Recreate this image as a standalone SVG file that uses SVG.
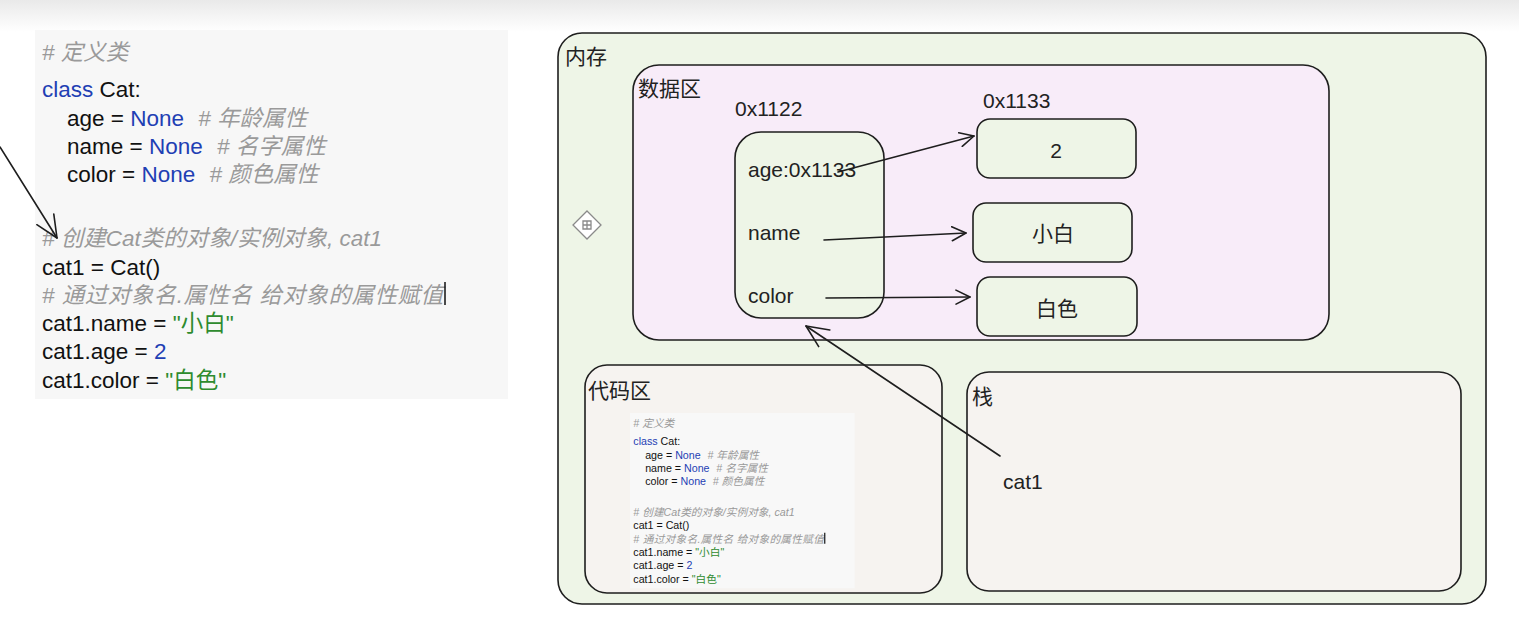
<svg xmlns="http://www.w3.org/2000/svg" width="1519" height="644" viewBox="0 0 1519 644">
<defs>
<linearGradient id="topg" x1="0" y1="0" x2="0" y2="1">
<stop offset="0" stop-color="#e9e9e9"/>
<stop offset="1" stop-color="#ffffff"/>
</linearGradient>
<marker id="arr" viewBox="0 0 16 16" refX="15" refY="8" markerWidth="16" markerHeight="16" markerUnits="userSpaceOnUse" orient="auto">
<path d="M1,1 L15,8 L1,15" fill="none" stroke="#1e1e1e" stroke-width="1.6" stroke-linecap="round" stroke-linejoin="round"/>
</marker>
<marker id="arrL" viewBox="0 0 24 24" refX="23" refY="12" markerWidth="24" markerHeight="24" markerUnits="userSpaceOnUse" orient="auto">
<path d="M1,2 L23,12 L1,22" fill="none" stroke="#1e1e1e" stroke-width="1.6" stroke-linecap="round" stroke-linejoin="round"/>
</marker>
<style>
.code{font-family:"Liberation Sans","Noto Sans CJK SC",sans-serif;font-size:22.5px;fill:#111}
.kw{fill:#1f3fb4}
.str{fill:#2e8b2e}
.cm{fill:#9a9a9a;font-style:italic}
.box{stroke:#1e1e1e;stroke-width:1.6}
.mem{fill:#eef5e7}
.data{fill:#f8ecf9}
.area{fill:#f6f3f0}
.lbl{font-family:"Liberation Sans","Noto Sans CJK SC",sans-serif;font-size:21px;fill:#222}
.conn{fill:none;stroke:#1e1e1e;stroke-width:1.6;stroke-linecap:round}
</style>
</defs>
<rect x="0" y="0" width="1519" height="644" fill="#ffffff"/>
<rect x="0" y="0" width="1519" height="32" fill="url(#topg)"/>

<g id="code-main">
<rect x="35" y="30" width="473" height="369" fill="#f7f7f7"/>
<text class="code" x="42" y="60"><tspan class="cm"># 定义类</tspan></text>
<text class="code" x="42" y="97"><tspan class="kw">class</tspan> Cat:</text>
<text class="code" x="67" y="126">age = <tspan class="kw">None</tspan> <tspan class="cm" dx="8"># 年龄属性</tspan></text>
<text class="code" x="67" y="154">name = <tspan class="kw">None</tspan> <tspan class="cm" dx="8"># 名字属性</tspan></text>
<text class="code" x="67" y="182">color = <tspan class="kw">None</tspan> <tspan class="cm" dx="8"># 颜色属性</tspan></text>
<text class="code" x="42" y="246"><tspan class="cm"># 创建Cat类的对象/实例对象, cat1</tspan></text>
<text class="code" x="42" y="275">cat1 = Cat()</text>
<text class="code" x="42" y="303" textLength="401" lengthAdjust="spacing"><tspan class="cm"># 通过对象名.属性名 给对象的属性赋值</tspan></text>
<line x1="445" y1="282" x2="445" y2="305" stroke="#111" stroke-width="1.5"/>
<text class="code" x="42" y="331">cat1.name = <tspan class="str">"小白"</tspan></text>
<text class="code" x="42" y="359">cat1.age = <tspan class="kw">2</tspan></text>
<text class="code" x="42" y="388">cat1.color = <tspan class="str">"白色"</tspan></text>
</g>

<g id="memory">
<rect class="box mem" x="558" y="33" width="928" height="571" rx="24"/>
<text class="lbl" x="565" y="64">内存</text>
</g>

<g id="data-area">
<rect class="box data" x="633" y="65" width="696" height="275" rx="26"/>
<text class="lbl" x="638" y="96">数据区</text>
</g>

<g id="move-icon" fill="none" stroke="#8a8a8a" stroke-width="1.3">
<path d="M587,211 L601,225 L587,239 L573,225 Z" fill="#ffffff"/>
<path d="M583,221 h8 v8 h-8 Z M587,221 v8 M583,225 h8"/>
</g>

<g id="obj-0x1122">
<text class="lbl" x="735" y="116">0x1122</text>
<rect class="box mem" x="735" y="132" width="149" height="186" rx="26"/>
<text class="lbl" x="748" y="177">age:0x1133</text>
<text class="lbl" x="748" y="240">name</text>
<text class="lbl" x="748" y="303">color</text>
</g>

<g id="val-2">
<text class="lbl" x="983" y="108">0x1133</text>
<rect class="box mem" x="977" y="119" width="159" height="59" rx="13"/>
<text class="lbl" x="1056" y="158" text-anchor="middle">2</text>
</g>

<g id="val-xiaobai">
<rect class="box mem" x="973" y="203" width="159" height="59" rx="13"/>
<text class="lbl" x="1053" y="241" text-anchor="middle">小白</text>
</g>

<g id="val-baise">
<rect class="box mem" x="977" y="277" width="160" height="59" rx="13"/>
<text class="lbl" x="1057" y="316" text-anchor="middle">白色</text>
</g>

<g id="code-area">
<rect class="box area" x="585" y="365" width="357" height="228" rx="22"/>
<text class="lbl" x="588" y="398">代码区</text>
<g transform="translate(630,413) scale(0.475) translate(-35,-30)">
<rect x="35" y="30" width="473" height="369" fill="#f8f8f8"/>
<text class="code" x="42" y="60"><tspan class="cm"># 定义类</tspan></text>
<text class="code" x="42" y="97"><tspan class="kw">class</tspan> Cat:</text>
<text class="code" x="67" y="126">age = <tspan class="kw">None</tspan> <tspan class="cm" dx="8"># 年龄属性</tspan></text>
<text class="code" x="67" y="154">name = <tspan class="kw">None</tspan> <tspan class="cm" dx="8"># 名字属性</tspan></text>
<text class="code" x="67" y="182">color = <tspan class="kw">None</tspan> <tspan class="cm" dx="8"># 颜色属性</tspan></text>
<text class="code" x="42" y="246"><tspan class="cm"># 创建Cat类的对象/实例对象, cat1</tspan></text>
<text class="code" x="42" y="275">cat1 = Cat()</text>
<text class="code" x="42" y="303" textLength="401" lengthAdjust="spacing"><tspan class="cm"># 通过对象名.属性名 给对象的属性赋值</tspan></text>
<line x1="445" y1="282" x2="445" y2="305" stroke="#111" stroke-width="2.5"/>
<text class="code" x="42" y="331">cat1.name = <tspan class="str">"小白"</tspan></text>
<text class="code" x="42" y="359">cat1.age = <tspan class="kw">2</tspan></text>
<text class="code" x="42" y="388">cat1.color = <tspan class="str">"白色"</tspan></text>
</g>
</g>

<g id="stack">
<rect class="box area" x="967" y="372" width="494" height="219" rx="22"/>
<text class="lbl" x="972" y="404">栈</text>
<text class="lbl" x="1003" y="489" font-size="22">cat1</text>
</g>

<g id="connectors">
<line class="conn" x1="838" y1="172" x2="974" y2="136" marker-end="url(#arr)"/>
<line class="conn" x1="824" y1="240" x2="966" y2="233" marker-end="url(#arr)"/>
<line class="conn" x1="826" y1="298" x2="970" y2="297" marker-end="url(#arr)"/>
<line class="conn" x1="1000" y1="456" x2="806" y2="326" marker-end="url(#arrL)"/>
<line class="conn" x1="0" y1="147" x2="57" y2="238" marker-end="url(#arrL)"/>
</g>
</svg>
